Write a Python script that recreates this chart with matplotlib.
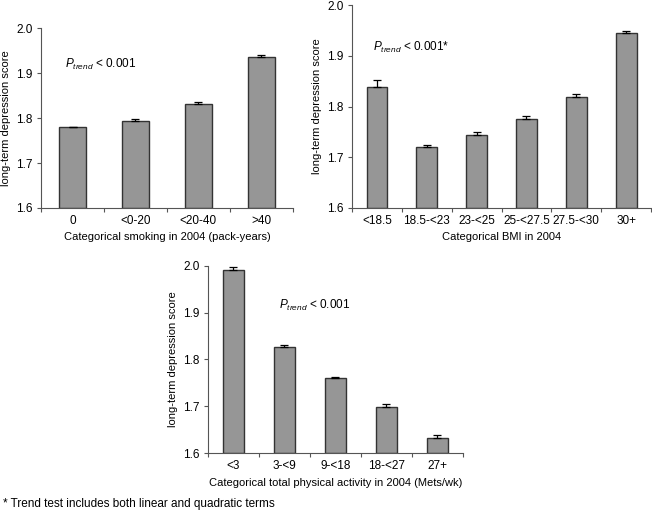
import numpy as np
import matplotlib.pyplot as plt

plt.rcParams['font.family'] = ['Liberation Sans', 'DejaVu Sans']
plt.rcParams['font.size'] = 8
plt.rcParams['mathtext.fontset'] = 'custom'
plt.rcParams['mathtext.it'] = 'Liberation Sans:italic'
plt.rcParams['mathtext.rm'] = 'Liberation Sans'

smoke_cats = ['0', '<0-20', '<20-40', '>40']
smoke_vals = [1.779, 1.794, 1.832, 1.936]
smoke_err = [0.002, 0.003, 0.004, 0.005]

bmi_cats = ['<18.5', '18.5-<23', '23-<25', '25-<27.5', '27.5-<30', '30+']
bmi_vals = [1.839, 1.720, 1.744, 1.775, 1.819, 1.945]
bmi_err = [0.013, 0.0035, 0.005, 0.006, 0.006, 0.003]

pa_cats = ['<3', '3-<9', '9-<18', '18-<27', '27+']
pa_vals = [1.992, 1.827, 1.760, 1.699, 1.633]
pa_err = [0.005, 0.004, 0.003, 0.005, 0.005]

fig = plt.figure(figsize=(6.52, 5.11), dpi=100)


def panel(rect, cats, vals, errs, xlabel, ptext, ptx, pty):
    ax = fig.add_axes(rect)
    n = len(cats)
    x = np.arange(n) + 0.5
    heights = np.array(vals) - 1.6
    ax.bar(x, heights, bottom=1.6, width=0.42, color='#969696',
           edgecolor='#333333', linewidth=1.0, zorder=2)
    ax.errorbar(x, vals, yerr=[np.zeros(n), errs], fmt='none',
                ecolor='black', elinewidth=0.9, capsize=3, capthick=0.9,
                zorder=3)
    ax.set_xlim(0, n)
    ax.set_ylim(1.6, 2.0)
    ax.set_yticks([1.6, 1.7, 1.8, 1.9, 2.0])
    ax.set_yticklabels(['1.6', '1.7', '1.8', '1.9', '2.0'], fontsize=8.5)
    ax.set_xticks(np.arange(n + 1))
    ax.set_xticklabels([])
    ax.set_xticks(x, minor=True)
    ax.set_xticklabels(cats, minor=True, fontsize=8.5)
    ax.tick_params(axis='x', which='minor', length=0, pad=5)
    ax.tick_params(axis='x', which='major', length=3, color='#555555')
    ax.tick_params(axis='y', length=3, color='#555555', pad=3)
    for s in ['top', 'right']:
        ax.spines[s].set_visible(False)
    for s in ['left', 'bottom']:
        ax.spines[s].set_color('#555555')
        ax.spines[s].set_linewidth(0.8)
    ax.set_ylabel('long-term depression score', labelpad=4)
    ax.set_xlabel(xlabel, labelpad=4)
    ax.text(ptx, pty, ptext, transform=ax.transAxes, fontsize=8.5,
            va='center', ha='left')
    return ax


panel([0.063, 0.593, 0.386, 0.352], smoke_cats, smoke_vals, smoke_err,
      'Categorical smoking in 2004 (pack-years)',
      r'$P_{trend}$ < 0.001', 0.095, 0.80)
panel([0.540, 0.593, 0.4585, 0.397], bmi_cats, bmi_vals, bmi_err,
      'Categorical BMI in 2004',
      r'$P_{trend}$ < 0.001*', 0.07, 0.79)
panel([0.319, 0.1135, 0.391, 0.366], pa_cats, pa_vals, pa_err,
      'Categorical total physical activity in 2004 (Mets/wk)',
      r'$P_{trend}$ < 0.001', 0.28, 0.79)

fig.text(0.004, 0.013, '* Trend test includes both linear and quadratic terms',
         fontsize=8.5, va='center', ha='left')

fig.savefig('out.png', dpi=100)
